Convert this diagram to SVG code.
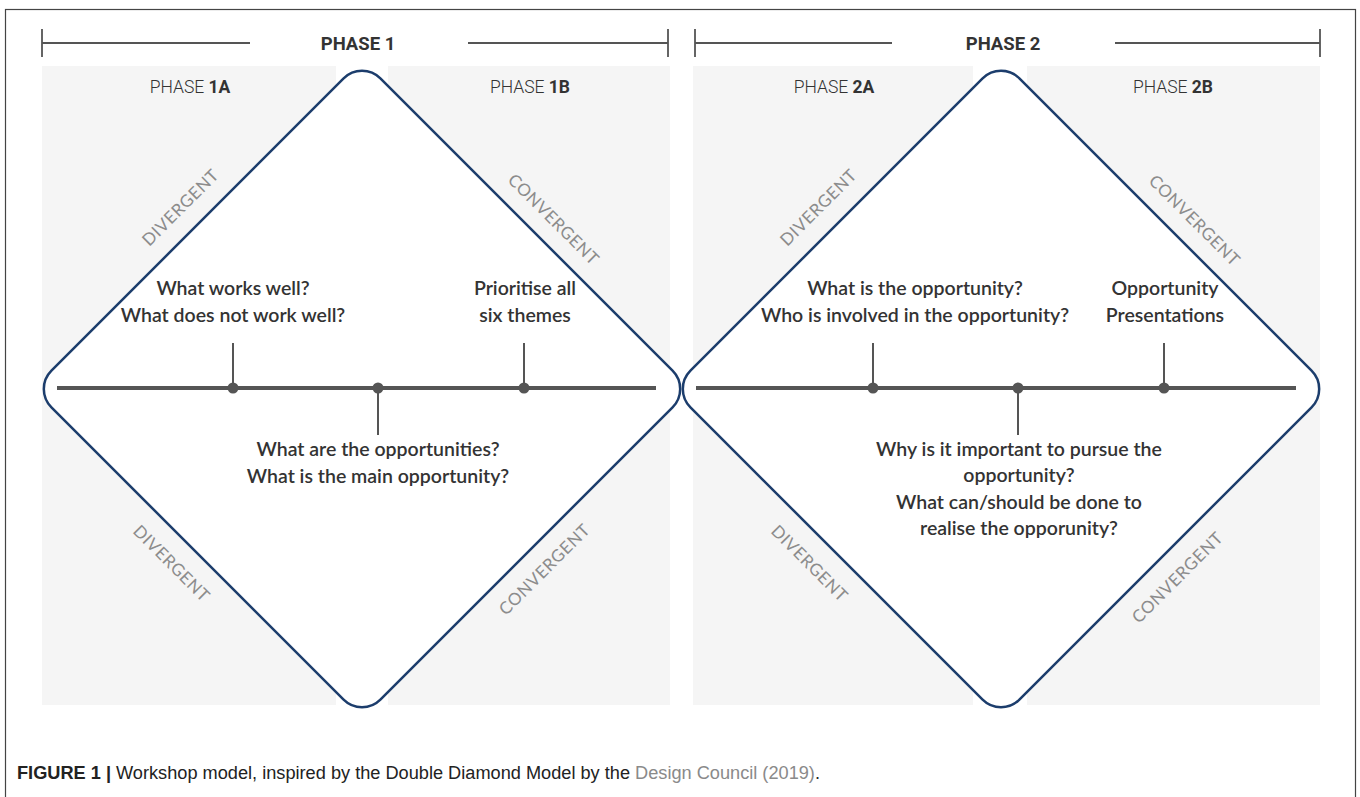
<svg xmlns="http://www.w3.org/2000/svg" width="1360" height="797" viewBox="0 0 1360 797">
<style>
.panel{fill:#f5f5f5}
.frame{fill:none;stroke:#444;stroke-width:1.2}
.hdr{stroke:#555;stroke-width:1.8;fill:none}
.hdrtxt{font-family:Roboto,"Liberation Sans",sans-serif;font-weight:bold;font-size:18.5px;fill:#333;text-anchor:middle}
.ph{font-family:Roboto,"Liberation Sans",sans-serif;font-weight:300;font-size:17.5px;fill:#333;text-anchor:middle}
.ph tspan{font-weight:bold}
.dia{fill:#fff;stroke:#1c3d6c;stroke-width:2.5}
.axis{stroke:#555;stroke-width:4}
.tick{stroke:#555;stroke-width:2}
.dot{fill:#555}
.q{font-family:Lato,"Noto Sans",sans-serif;font-weight:600;font-size:19.5px;fill:#333;text-anchor:middle}
.dir{font-family:Lato,"Noto Sans",sans-serif;font-size:17px;fill:#8c8c8c;text-anchor:middle;dominant-baseline:central;letter-spacing:0.6px}
.cap{font-family:"Liberation Sans",Arial,sans-serif;font-size:18px;fill:#222}
</style>
<rect class="frame" x="5.5" y="9.5" width="1350" height="800"/>
<g id="panels">
<rect class="panel" x="42" y="66" width="294" height="639"/>
<rect class="panel" x="388" y="66" width="282" height="639"/>
<rect class="panel" x="693" y="66" width="280" height="639"/>
<rect class="panel" x="1027" y="66" width="293" height="639"/>
</g>
<g id="phase1-header">
<path class="hdr" d="M42 43H250M468 43H668M42 29V57M668 29V57"/>
<text class="hdrtxt" x="358" y="49.5">PHASE 1</text>
</g>
<g id="phase2-header">
<path class="hdr" d="M695 43H892M1115 43H1320M695 29V57M1320 29V57"/>
<text class="hdrtxt" x="1003" y="49.5">PHASE 2</text>
</g>
<g id="phase-labels">
<text class="ph" x="190" y="93">PHASE <tspan>1A</tspan></text>
<text class="ph" x="530" y="93">PHASE <tspan>1B</tspan></text>
<text class="ph" x="834" y="93">PHASE <tspan>2A</tspan></text>
<text class="ph" x="1173" y="93">PHASE <tspan>2B</tspan></text>
</g>
<g id="diamond1">
<rect class="dia" x="-232.6" y="-232.6" width="465.2" height="465.2" rx="26" transform="translate(362,389) rotate(45)"/>
<text class="dir" transform="translate(180,207) rotate(-45)">DIVERGENT</text>
<text class="dir" transform="translate(554,219) rotate(45)">CONVERGENT</text>
<text class="dir" transform="translate(172,563) rotate(45)">DIVERGENT</text>
<text class="dir" transform="translate(544,569) rotate(-45)">CONVERGENT</text>
</g>
<g id="diamond2">
<rect class="dia" x="-232.6" y="-232.6" width="465.2" height="465.2" rx="26" transform="translate(1001,389) rotate(45)"/>
<text class="dir" transform="translate(818,207) rotate(-45)">DIVERGENT</text>
<text class="dir" transform="translate(1195,220) rotate(45)">CONVERGENT</text>
<text class="dir" transform="translate(810,563) rotate(45)">DIVERGENT</text>
<text class="dir" transform="translate(1177,577) rotate(-45)">CONVERGENT</text>
</g>
<g id="connectors">
<line class="axis" x1="57" y1="388" x2="656" y2="388"/>
<line class="tick" x1="233" y1="343" x2="233" y2="388"/>
<line class="tick" x1="524" y1="343" x2="524" y2="388"/>
<line class="tick" x1="378" y1="388" x2="378" y2="435"/>
<line class="axis" x1="696" y1="388" x2="1296" y2="388"/>
<line class="tick" x1="873" y1="343" x2="873" y2="388"/>
<line class="tick" x1="1164" y1="343" x2="1164" y2="388"/>
<line class="tick" x1="1018" y1="388" x2="1018" y2="435"/>
<circle class="dot" cx="233" cy="388" r="5.5"/>
<circle class="dot" cx="378" cy="388" r="5.5"/>
<circle class="dot" cx="524" cy="388" r="5.5"/>
<circle class="dot" cx="873" cy="388" r="5.5"/>
<circle class="dot" cx="1018" cy="388" r="5.5"/>
<circle class="dot" cx="1164" cy="388" r="5.5"/>
</g>
<g id="q1a">
<text class="q" x="233" y="295">What works well?</text>
<text class="q" x="233" y="322">What does not work well?</text>
</g>
<g id="q1b">
<text class="q" x="525" y="295">Prioritise all</text>
<text class="q" x="525" y="322">six themes</text>
</g>
<g id="q1mid">
<text class="q" x="378" y="456">What are the opportunities?</text>
<text class="q" x="378" y="483">What is the main opportunity?</text>
</g>
<g id="q2a">
<text class="q" x="915" y="295">What is the opportunity?</text>
<text class="q" x="915" y="322">Who is involved in the opportunity?</text>
</g>
<g id="q2b">
<text class="q" x="1165" y="295">Opportunity</text>
<text class="q" x="1165" y="322">Presentations</text>
</g>
<g id="q2mid">
<text class="q" x="1019" y="456">Why is it important to pursue the</text>
<text class="q" x="1019" y="482">opportunity?</text>
<text class="q" x="1019" y="509">What can/should be done to</text>
<text class="q" x="1019" y="535">realise the opporunity?</text>
</g>
<g id="caption">
<text class="cap" x="17" y="779" textLength="803" lengthAdjust="spacingAndGlyphs"><tspan font-weight="bold">FIGURE 1 |</tspan> Workshop model, inspired by the Double Diamond Model by the <tspan fill="#8a8a8a">Design Council (2019)</tspan>.</text>
</g>
</svg>
